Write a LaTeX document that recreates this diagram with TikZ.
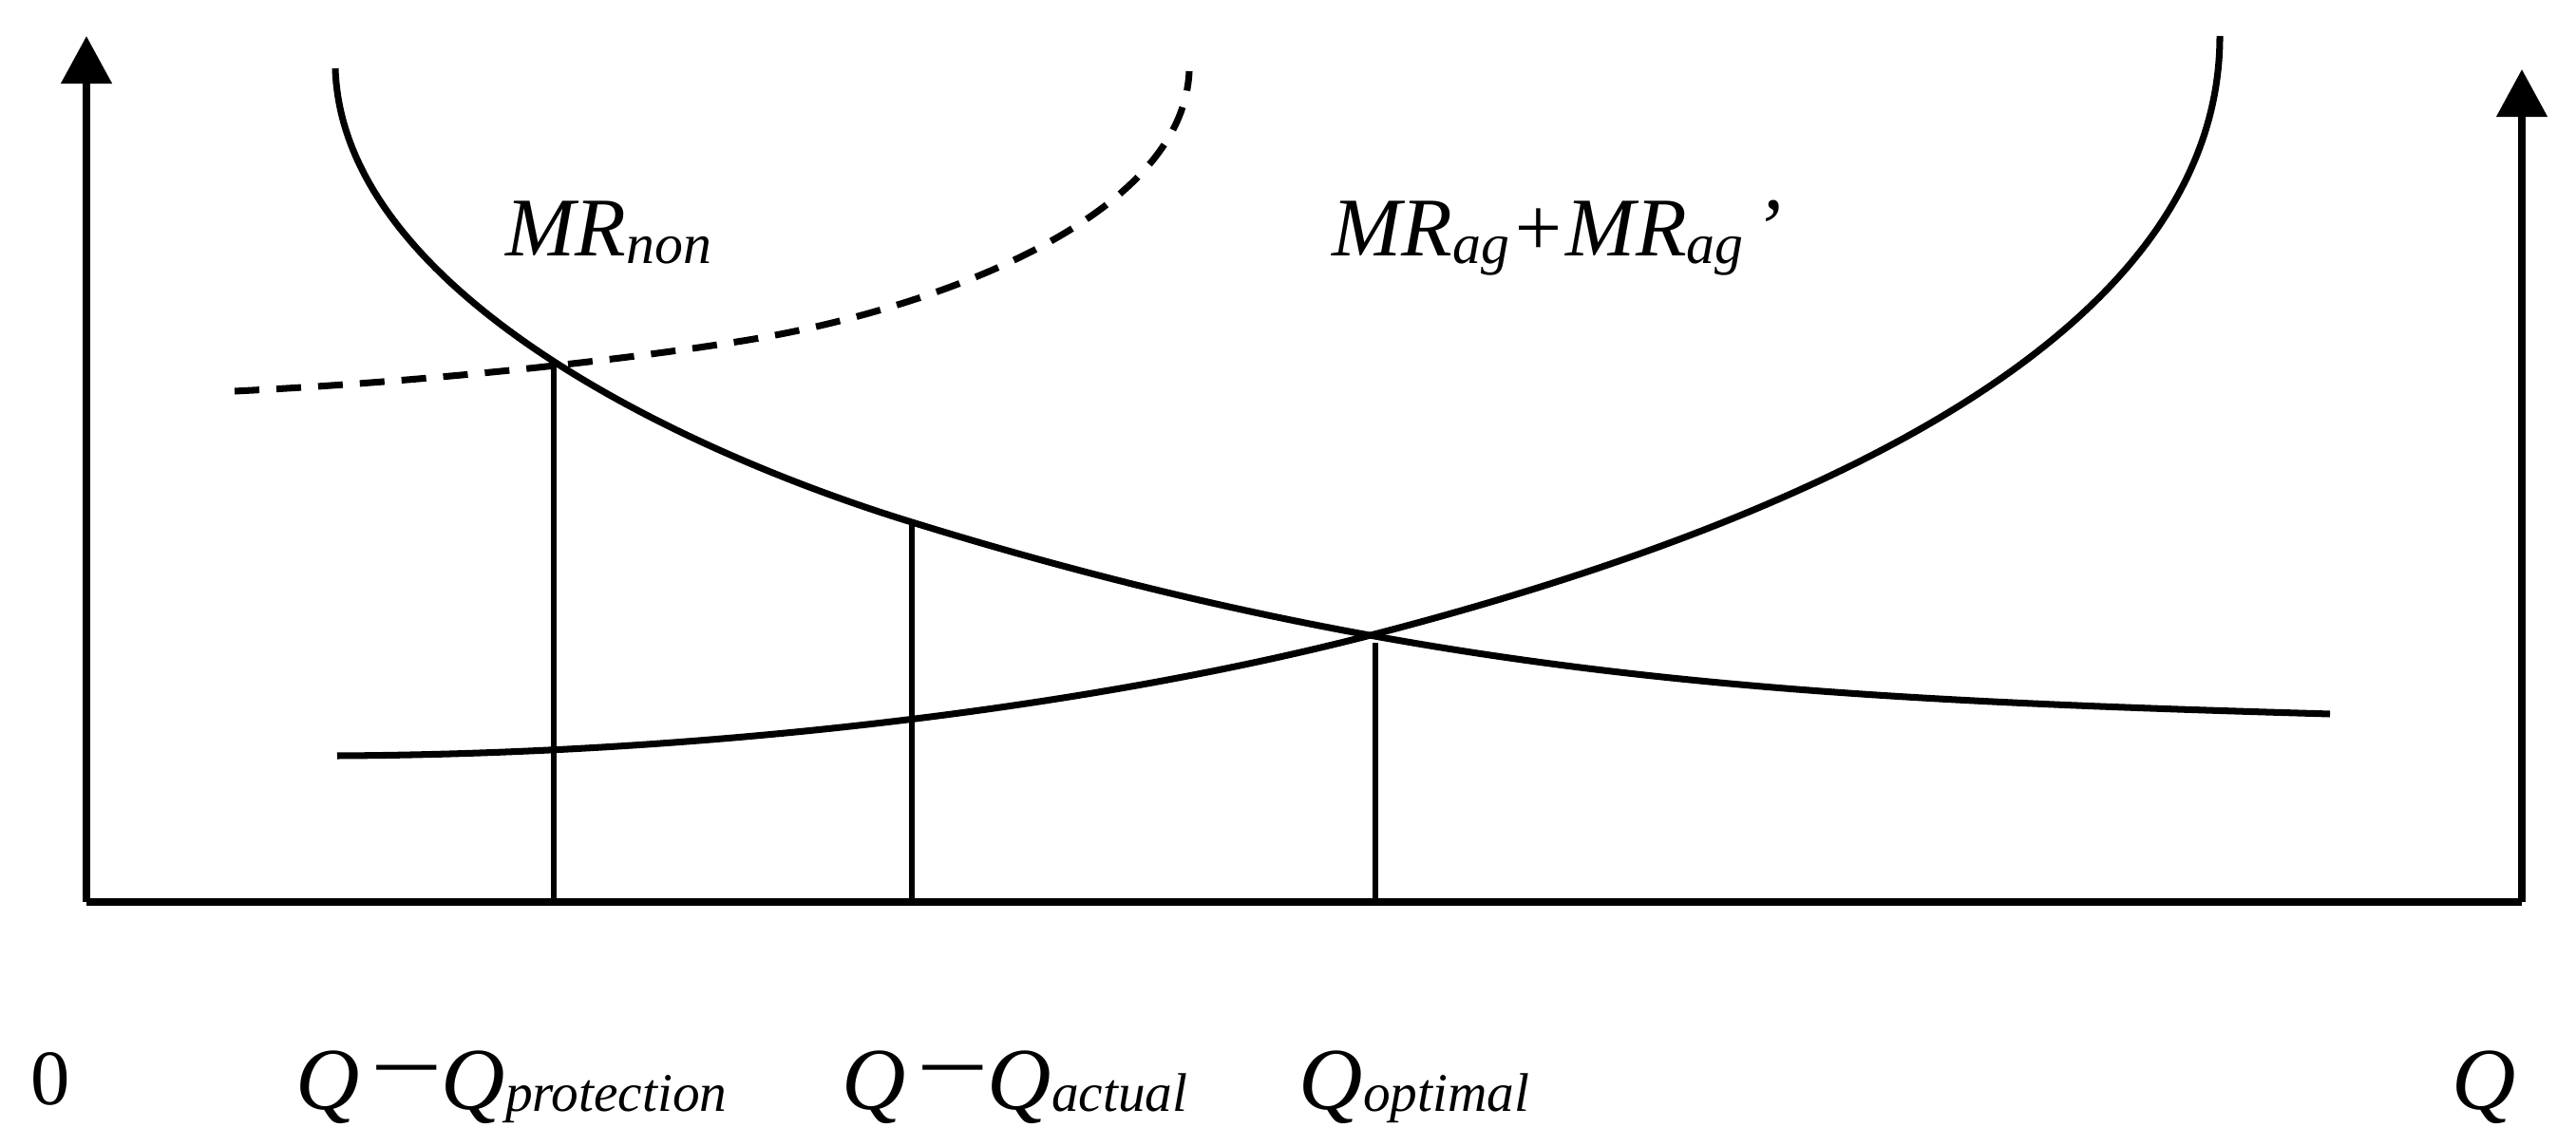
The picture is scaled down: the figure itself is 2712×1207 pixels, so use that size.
\documentclass[tikz,border=0pt]{standalone}
\usepackage{fontspec}
\setmainfont{Liberation Serif}
\usetikzlibrary{arrows.meta}
\newcommand\subA[1]{\raisebox{-0.08em}{\fontsize{17}{20}\selectfont #1}}
\newcommand\subB[1]{\raisebox{-0.03em}{\fontsize{16.3}{20}\selectfont #1}}
\newcommand\mn{\kern0.2em\raisebox{0.21em}{\scalebox{1.32}[1.1]{–}}\kern0.06em}
\begin{document}
\begin{tikzpicture}[x=0.01cm,y=-0.01cm,
  curve/.style={line width=2pt, line join=round, line cap=butt},
  dashcurve/.style={curve, dash pattern=on 0.26cm off 0.18cm},
  axisline/.style={line width=2.2pt},
  arrowaxis/.style={axisline,-{Triangle[length=0.5cm,width=0.52cm]}},
  dropline/.style={line width=1.9pt},
  toplabel/.style={inner sep=0pt, anchor=base west, font=\fontsize{25}{30}\selectfont\itshape},
  botlabel/.style={inner sep=0pt, anchor=base west, font=\fontsize{26.5}{30}\selectfont\itshape},
  zerolabel/.style={inner sep=0pt, anchor=base, font=\fontsize{23.5}{28}\selectfont},
]
\useasboundingbox (0,0) rectangle (2712,1207);
% axes
\coordinate (O) at (91,950);
\coordinate (Ytop) at (91,38);
\coordinate (Xend) at (2655,950);
\coordinate (Y2top) at (2655,73);
\draw[arrowaxis] (O) -- (Ytop);
\draw[axisline] (O) -- (Xend);
\draw[arrowaxis] (Xend) -- (Y2top);
% drop lines
\coordinate (P1b) at (583,950); \coordinate (P1t) at (583,380);
\coordinate (P2b) at (960,950); \coordinate (P2t) at (960,550);
\coordinate (P3b) at (1448,950); \coordinate (P3t) at (1448,677);
\draw[dropline] (P1b) -- (P1t);
\draw[dropline] (P2b) -- (P2t);
\draw[dropline] (P3b) -- (P3t);
% decreasing curve
\coordinate (Ds) at (353,72);
\coordinate (Dm) at (960,550);
\coordinate (De) at (2453,752);
\draw[curve] (Ds) .. controls (360,300) and (700,470) .. (Dm)
                  .. controls (1500,717) and (1900,736) .. (De);
% increasing curve
\coordinate (Us) at (355,796);
\coordinate (X) at (1447,668);
\coordinate (Ue) at (2337,38);
\draw[curve] (Us) .. controls (750,794) and (1150,745) .. (X)
                  .. controls (1947,538) and (2337,338) .. (Ue);
% dashed curve
\coordinate (Ss) at (247,412);
\coordinate (Sm) at (782,359);
\coordinate (Se) at (1252,75);
\draw[dashcurve] (Ss) .. controls (450,402) and (650,380) .. (Sm)
                      .. controls (982,327) and (1245,230) .. (Se);
% labels
\node[toplabel] (mrnon) at (532,270) {MR\subA{non}};
\node[toplabel] (mrag) at (1402,270) {MR\subA{ag}+MR\subA{ag}\hspace{0.12em}’};
\node[zerolabel] (zero) at (53,1163) {0};
\node[botlabel] (qprot) at (311,1168) {Q\mn Q\subB{protection}};
\node[botlabel] (qact) at (886,1168) {Q\mn Q\subB{actual}};
\node[botlabel] (qopt) at (1367,1168) {Q\subB{optimal}};
\node[botlabel] (q) at (2581,1168) {Q};
\end{tikzpicture}
\end{document}
